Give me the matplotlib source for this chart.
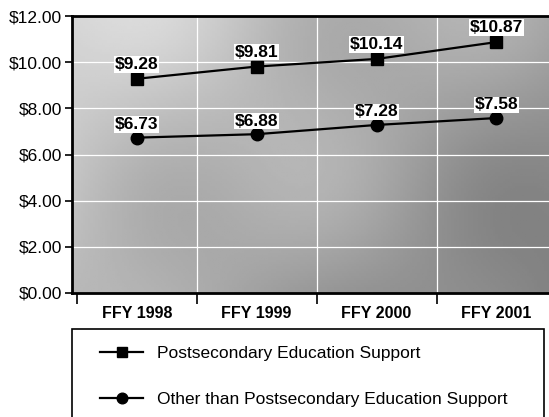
import numpy as np
import matplotlib.pyplot as plt
from matplotlib.patches import Rectangle

years = ["FFY 1998", "FFY 1999", "FFY 2000", "FFY 2001"]
post_support = [9.28, 9.81, 10.14, 10.87]
other_support = [6.73, 6.88, 7.28, 7.58]
post_labels = ["$9.28", "$9.81", "$10.14", "$10.87"]
other_labels = ["$6.73", "$6.88", "$7.28", "$7.58"]
y_ticks = [0, 2, 4, 6, 8, 10, 12]

plt.rcParams['font.family'] = ['Liberation Sans', 'DejaVu Sans']

W, H = 549, 417
fig = plt.figure(figsize=(W / 100, H / 100), dpi=100)
ax = fig.add_axes([72 / W, 1 - 293 / H, (560 - 72) / W, (293 - 16) / H])

x = np.arange(len(years))
xlim = (-0.54, 3.53)
ax.set_xlim(*xlim)
ax.set_ylim(0, 12)

# shaded background, lighter top-left, darker bottom-right
gx, gy = np.meshgrid(np.linspace(0, 1, 200), np.linspace(0, 1, 120))
shade = 0.84 - 0.22 * gx - 0.12 * gy + 0.05 * np.sin(gx * 9) * np.cos(gy * 5)
ax.imshow(shade, cmap='gray', vmin=0, vmax=1, aspect='auto',
          extent=(xlim[0], xlim[1], 0, 12), origin='upper', zorder=0)

for yv in y_ticks[1:-1]:
    ax.axhline(yv, color='white', lw=0.9, zorder=1)
for xv in [0.5, 1.5, 2.5]:
    ax.axvline(xv, color='white', lw=0.9, zorder=1)

ax.plot(x, post_support, color='black', lw=1.6, marker='s', markersize=9,
        label="Postsecondary Education Support", zorder=3)
ax.plot(x, other_support, color='black', lw=1.6, marker='o', markersize=9,
        label="Other than Postsecondary Education Support", zorder=3)

box = dict(facecolor='white', edgecolor='none', pad=0.5)
for xi, v, t in zip(x, post_support, post_labels):
    ax.annotate(t, (xi, v), xytext=(0, 5), textcoords='offset points',
                ha='center', va='bottom', fontsize=12.5, fontweight='bold',
                bbox=box, zorder=4)
for xi, v, t in zip(x, other_support, other_labels):
    ax.annotate(t, (xi, v), xytext=(0, 4), textcoords='offset points',
                ha='center', va='bottom', fontsize=12.5, fontweight='bold',
                bbox=box, zorder=4)

ax.set_yticks(y_ticks)
ax.set_yticklabels(["$%.2f" % v for v in y_ticks], fontsize=12.5)
ax.set_xticks([-0.5, 0.5, 1.5, 2.5, 3.5])
ax.set_xticklabels([])
ax.set_xticks(x, minor=True)
ax.set_xticklabels(years, minor=True, fontsize=11.5, fontweight='bold')
ax.tick_params(axis='x', which='minor', length=0, pad=9)
ax.tick_params(axis='x', which='major', length=8, width=1.2, direction='out')
ax.tick_params(axis='y', length=5, width=1.2, direction='out', pad=2)
for s in ['left', 'bottom', 'top']:
    ax.spines[s].set_linewidth(2)
ax.spines['right'].set_visible(False)

# legend box frame
fig.patches.append(Rectangle((72 / W, -0.05), (544 - 72) / W, 1.05 - 329 / H,
                             transform=fig.transFigure, facecolor='white',
                             edgecolor='black', lw=1.2))
fig.legend(loc='upper left', bbox_to_anchor=(100 / W, 1 - 346 / H),
           fontsize=12.5, frameon=False, markerscale=0.85,
           handlelength=2.5, handletextpad=0.8, labelspacing=1.75,
           borderpad=0, borderaxespad=0)

fig.savefig("out.png", dpi=100)
